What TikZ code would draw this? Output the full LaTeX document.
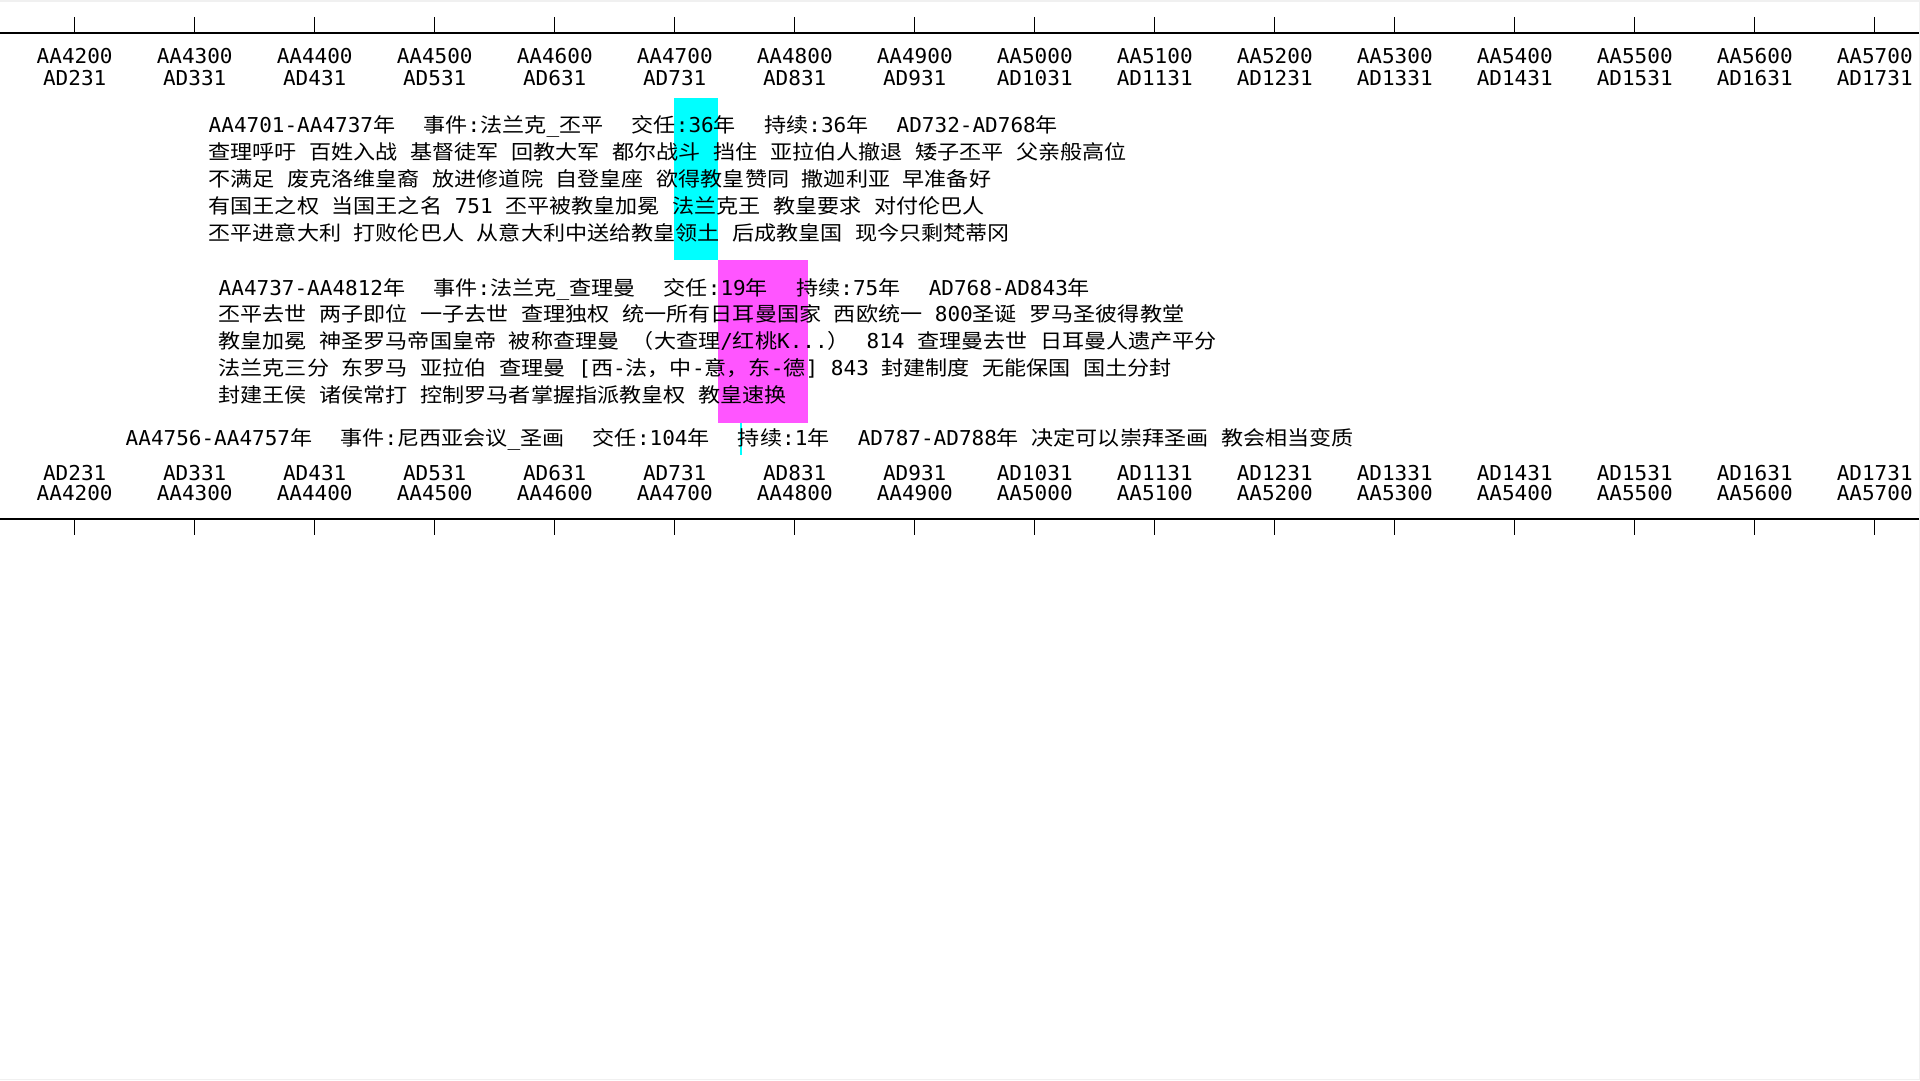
\documentclass[tikz,border=0pt]{standalone}
\font\monofnt="DejaVu Sans Mono:extend=1.025" at 20.5pt
\font\cjkfnt="Noto Sans CJK SC:extend=1.104" at 20pt
\XeTeXinterchartokenstate=1
\newXeTeXintercharclass\cjkcls
\newcount\tmpc
\tmpc=32
\loop \XeTeXcharclass\tmpc=0 \advance\tmpc by 1 \ifnum\tmpc<127 \repeat
\tmpc="2E80
\loop \XeTeXcharclass\tmpc=\cjkcls \advance\tmpc by 1 \ifnum\tmpc<"A000 \repeat
\tmpc="FF00
\loop \XeTeXcharclass\tmpc=\cjkcls \advance\tmpc by 1 \ifnum\tmpc<"FFF0 \repeat
\XeTeXinterchartoks 0 \cjkcls={\cjkfnt}
\XeTeXinterchartoks 4095 \cjkcls={\cjkfnt}
\XeTeXinterchartoks \cjkcls 0={\monofnt}
\XeTeXinterchartoks \cjkcls 4095={\monofnt}
\newcommand\gp{\hspace{28.3pt}}
\definecolor{barcyan}{RGB}{0,255,255}
\definecolor{barpink}{RGB}{255,85,255}
\definecolor{frame}{RGB}{240,240,240}
\tikzset{
  axisline/.style={line width=1.3pt, black},
  tickmark/.style={line width=1pt, black},
  lbl/.style={inner sep=0pt, anchor=base, font=\monofnt},
  txt/.style={inner sep=0pt, anchor=base west, font=\monofnt},
}
\begin{document}
\begin{tikzpicture}[x=1pt, y=-1pt]
\useasboundingbox (0,0) rectangle (1920,1080);
\fill[frame] (0,0) rectangle (1920,1080);
\fill[white] (0,2) rectangle (1919,1079);
% bars
\fill[barcyan] (674,98) rectangle (718,260);
\fill[barpink] (717.5,260) rectangle (808,422.7);
\fill[barcyan] (739.5,422.7) rectangle (742,455);
% axes
\draw[axisline] (0,33) -- (1919,33);
\draw[axisline] (0,519) -- (1919,519);
\foreach \k in {0,...,15}{
  \pgfmathtruncatemacro\aa{4200+100*\k}
  \pgfmathtruncatemacro\ad{231+100*\k}
  \pgfmathsetmacro\xx{74.7+120*\k}
  \draw[tickmark] (\xx,17) -- (\xx,33);
  \draw[tickmark] (\xx,519) -- (\xx,535);
  \node[lbl] (taa\k) at (\xx,63.3) {AA\aa};
  \node[lbl] (tad\k) at (\xx,85.3) {AD\ad};
  \node[lbl] (bad\k) at (\xx,480.3) {AD\ad};
  \node[lbl] (baa\k) at (\xx,500) {AA\aa};
}
% block 1
\node[txt] (a1) at (208.5,132.5) {AA4701-AA4737年\gp 事件:法兰克\_丕平\gp 交任:36年\gp 持续:36年\gp AD732-AD768年};
\node[txt] (a2) at (208.5,159.4) {查理呼吁 百姓入战 基督徒军 回教大军 都尔战斗 挡住 亚拉伯人撤退 矮子丕平 父亲般高位};
\node[txt] (a3) at (208.5,186.3) {不满足 废克洛维皇裔 放进修道院 自登皇座 欲得教皇赞同 撒迦利亚 早准备好};
\node[txt] (a4) at (208.5,213.2) {有国王之权 当国王之名 751 丕平被教皇加冕 法兰克王 教皇要求 对付伦巴人};
\node[txt] (a5) at (208.5,240.1) {丕平进意大利 打败伦巴人 从意大利中送给教皇领土 后成教皇国 现今只剩梵蒂冈};
% block 2
\node[txt] (b1) at (218.5,295) {AA4737-AA4812年\gp 事件:法兰克\_查理曼\gp 交任:19年\gp 持续:75年\gp AD768-AD843年};
\node[txt] (b2) at (218.5,321.9) {丕平去世 两子即位 一子去世 查理独权 统一所有日耳曼国家 西欧统一 800圣诞 罗马圣彼得教堂};
\node[txt] (b3) at (218.5,348.8) {教皇加冕 神圣罗马帝国皇帝 被称查理曼 （大查理/红桃K...） 814 查理曼去世 日耳曼人遗产平分};
\node[txt] (b4) at (218.5,375.7) {法兰克三分 东罗马 亚拉伯 查理曼 [西-法，中-意，东-德] 843 封建制度 无能保国 国土分封};
\node[txt] (b5) at (218.5,402.6) {封建王侯 诸侯常打 控制罗马者掌握指派教皇权 教皇速换};
% block 3
\node[txt] (c1) at (125.5,445.5) {AA4756-AA4757年\gp 事件:尼西亚会议\_圣画\gp 交任:104年\gp 持续:1年\gp AD787-AD788年 决定可以崇拜圣画 教会相当变质};
\end{tikzpicture}
\end{document}
